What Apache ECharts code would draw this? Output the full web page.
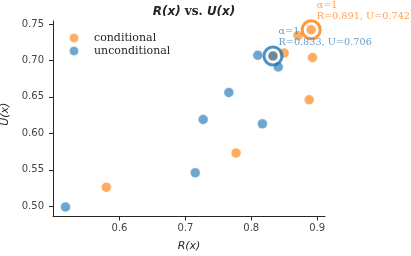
<!DOCTYPE html>
<html>
<head>
<meta charset="utf-8">
<script src="https://cdn.jsdelivr.net/npm/echarts@6/dist/echarts.min.js"></script>
<style>html,body{margin:0;padding:0;background:#fff}#c{width:411px;height:256px}</style>
</head>
<body>
<div id="c"></div>
<script>
const condR = [0.580, 0.777, 0.888, 0.893, 0.850, 0.871, 0.891, 0.833];
const condU = [0.526, 0.573, 0.646, 0.704, 0.710, 0.734, 0.742, 0.706];
const uncR = [0.518, 0.715, 0.727, 0.766, 0.817, 0.810, 0.841, 0.833];
const uncU = [0.499, 0.546, 0.619, 0.656, 0.613, 0.707, 0.691, 0.706];
const condBest = [0.891, 0.742];
const uncBest = [0.833, 0.706];
const xTicks = [0.6, 0.7, 0.8, 0.9];
const yTicks = [0.50, 0.55, 0.60, 0.65, 0.70, 0.75];

const chart = echarts.init(document.getElementById('c'), null, {renderer: 'canvas'});
const ORANGE = '#ff7f0e', BLUE = '#1f77b4';
function pts(a, b) { return a.map((v, i) => [v, b[i]]); }
function ann(p) { return '\u03b1=1\nR=' + p[0].toFixed(3) + ', U=' + p[1].toFixed(3); }

const option = {
  animation: false,
  backgroundColor: '#fff',
  title: {
    text: '{i|R(x)}{s| vs. }{i|U(x)}',
    left: 189, textAlign: 'center', top: 1,
    textStyle: {
      rich: {
        i: {fontFamily: 'DejaVu Sans', fontStyle: 'italic', fontWeight: 'bold', fontSize: 12, color: '#262626'},
        s: {fontFamily: 'DejaVu Serif', fontWeight: 'bold', fontSize: 12, color: '#262626'}
      }
    }
  },
  legend: {
    orient: 'vertical', left: 68, top: 32, padding: 0,
    itemWidth: 10, itemHeight: 10, itemGap: 1,
    icon: 'circle',
    data: ['conditional', 'unconditional'],
    textStyle: {fontFamily: 'DejaVu Serif', fontSize: 11, color: '#262626', padding: [0, 0, 0, 10]}
  },
  grid: {left: 53, right: 86, top: 21, bottom: 39.5, containLabel: false, outerBoundsMode: 'none'},
  xAxis: {
    type: 'value', min: 0.499, max: 0.912,
    name: 'R(x)', nameLocation: 'middle', nameGap: 24,
    nameTextStyle: {fontFamily: 'DejaVu Sans', fontStyle: 'italic', fontSize: 11, color: '#262626'},
    axisLine: {show: true, lineStyle: {color: '#262626', width: 1}},
    axisTick: {show: true, inside: false, length: 4, lineStyle: {color: '#262626'}, customValues: xTicks},
    axisLabel: {fontFamily: 'DejaVu Sans', fontSize: 10, color: '#444', margin: 7, customValues: xTicks,
      formatter: v => v.toFixed(1)},
    splitLine: {show: false}
  },
  yAxis: {
    type: 'value', min: 0.486, max: 0.754,
    name: 'U(x)', nameLocation: 'middle', nameGap: 34,
    nameTextStyle: {fontFamily: 'DejaVu Sans', fontStyle: 'italic', fontSize: 11, color: '#262626', padding: [0, 0, 0, 9]},
    axisLine: {show: true, lineStyle: {color: '#262626', width: 1}},
    axisTick: {show: true, inside: false, length: 4, lineStyle: {color: '#262626'}, customValues: yTicks},
    axisLabel: {fontFamily: 'DejaVu Sans', fontSize: 10, color: '#444', margin: 9, customValues: yTicks,
      formatter: v => v.toFixed(2)},
    splitLine: {show: false}
  },
  series: [
    {
      name: 'conditional', type: 'scatter', data: pts(condR, condU), symbolSize: 10,
      itemStyle: {color: ORANGE, opacity: 0.65, borderColor: '#fff', borderWidth: 0.8}
    },
    {
      name: 'unconditional', type: 'scatter', data: pts(uncR, uncU), symbolSize: 10,
      itemStyle: {color: BLUE, opacity: 0.65, borderColor: '#fff', borderWidth: 0.8}
    },
    {
      name: 'condBest', type: 'scatter', data: [condBest], symbolSize: 18, z: 5,
      itemStyle: {color: 'rgba(0,0,0,0)', borderColor: ORANGE, borderWidth: 3},
      label: {show: true, position: [16, -19], formatter: p => ann(p.value), align: 'left', verticalAlign: 'top',
        fontFamily: 'DejaVu Serif', fontSize: 9.7, lineHeight: 10.5, color: '#ff8a24'},
      emphasis: {disabled: true}
    },
    {
      name: 'uncBest', type: 'scatter', data: [uncBest], symbolSize: 18, z: 5,
      itemStyle: {color: 'rgba(0,0,0,0)', borderColor: BLUE, borderWidth: 3},
      label: {show: true, position: [16, -19], formatter: p => ann(p.value), align: 'left', verticalAlign: 'top',
        fontFamily: 'DejaVu Serif', fontSize: 9.7, lineHeight: 10.5, color: '#3a86c0'},
      emphasis: {disabled: true}
    }
  ]
};
chart.setOption(option);
</script>
</body>
</html>
